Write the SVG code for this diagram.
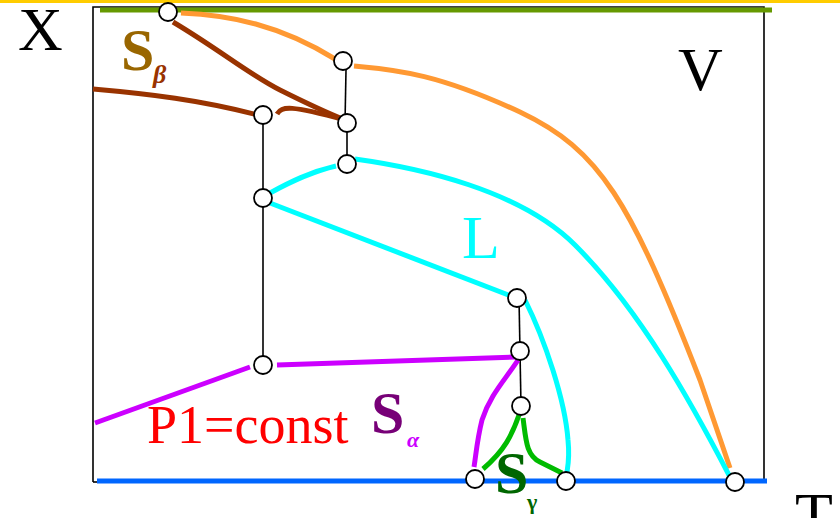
<svg xmlns="http://www.w3.org/2000/svg" width="840" height="518" viewBox="0 0 840 518">
<style>
.c{fill:none;stroke-width:5;stroke-linecap:butt}
.thin{fill:none;stroke:#000;stroke-width:1.6}
.n{fill:#fff;stroke:#000;stroke-width:1.8}
.serif{font-family:"Liberation Serif","Times New Roman",serif}
</style>
<rect width="840" height="518" fill="#fff"/>
<line x1="0" y1="1.5" x2="840" y2="1.5" stroke="#FFCC00" stroke-width="3"/>
<g id="frame"><polyline points="93,482 93,7 764,7 764,482" fill="none" stroke="#000" stroke-width="1.6"/><line x1="93" y1="482" x2="100" y2="482" stroke="#000" stroke-width="1.6"/></g>
<g id="connectors">
<line x1="100" y1="10" x2="772" y2="10" stroke="#669900" stroke-width="5"/>
<line x1="97" y1="481" x2="767" y2="481" stroke="#0066FF" stroke-width="5"/>
<line class="thin" x1="263" y1="115" x2="263" y2="365"/>
<line class="thin" x1="346" y1="70" x2="345" y2="123"/>
<line class="thin" x1="347" y1="123" x2="347" y2="164"/>
<line class="thin" x1="519" y1="298" x2="521" y2="406"/>
<path class="c" stroke="#FF9933" d="M181,13 C230,15 280,25 335,59"/>
<path class="c" stroke="#FF9933" d="M354,66 C400,70 440,75 520,112 C600,150 630,200 700,380 L730,468"/>
<path class="c" stroke="#993300" d="M173,22 C220,50 250,75 280,90 C300,100 320,110 345,120"/>
<path class="c" stroke="#993300" d="M93,89 C150,94 200,100 258,115"/>
<path class="c" stroke="#993300" d="M277,114 C282,106 290,105 345,120"/>
<path class="c" stroke="#00FFFF" d="M270,193 C290,182 310,172 336,166"/>
<path class="c" stroke="#00FFFF" d="M355,159 C420,168 520,190 575,245 C640,310 690,400 730,477"/>
<path class="c" stroke="#00FFFF" d="M270,203 L511,296"/>
<path class="c" stroke="#00FFFF" d="M525,300 C545,340 565,400 568,440 C570,460 567,470 567,472"/>
<path class="c" stroke="#CC00FF" d="M95,423 L250,367"/>
<path class="c" stroke="#CC00FF" d="M277,365 L516,357"/>
<path class="c" stroke="#CC00FF" d="M518,360 C505,380 490,395 482,420 C477,440 476,455 474,467"/>
<path class="c" stroke="#00BB00" d="M519,415 C512,435 505,450 483,469"/>
<path class="c" stroke="#00BB00" d="M523,418 C526,440 526,455 540,462 L562,473"/>
</g>
<g id="n1"><circle class="n" cx="168" cy="12" r="9"/></g>
<g id="n2"><circle class="n" cx="343" cy="61" r="9"/></g>
<g id="n3"><circle class="n" cx="263" cy="115" r="9"/></g>
<g id="n4"><circle class="n" cx="347" cy="123" r="9"/></g>
<g id="n5"><circle class="n" cx="347" cy="164" r="9"/></g>
<g id="n6"><circle class="n" cx="263" cy="198" r="9"/></g>
<g id="n7"><circle class="n" cx="517" cy="298" r="9"/></g>
<g id="n8"><circle class="n" cx="263" cy="365" r="9"/></g>
<g id="n9"><circle class="n" cx="520" cy="351" r="9"/></g>
<g id="n10"><circle class="n" cx="521" cy="406" r="9"/></g>
<g id="n11"><circle class="n" cx="475" cy="479" r="9"/></g>
<g id="n12"><circle class="n" cx="566" cy="481" r="9"/></g>
<g id="n13"><circle class="n" cx="735" cy="482" r="9"/></g>
<g id="labels" class="serif">
<text x="18" y="50" font-size="62" fill="#000">X</text>
<text x="678" y="90" font-size="62" fill="#000">V</text>
<text x="795" y="535" font-size="62" fill="#000">T</text>
<text x="462" y="258" font-size="62" fill="#00FFFF">L</text>
<text x="147" y="443" font-size="54" fill="#FF0000">P1=const</text>
<text x="121" y="70" font-size="60" font-weight="bold" fill="#996600">S</text>
<text x="153" y="83" font-size="26" font-weight="bold" font-style="italic" fill="#993300">β</text>
<text x="371" y="433" font-size="60" font-weight="bold" fill="#770077">S</text>
<text x="407" y="447" font-size="22" font-weight="bold" font-style="italic" fill="#CC00FF">α</text>
<text x="495" y="493" font-size="60" font-weight="bold" fill="#006600">S</text>
<text x="527" y="509" font-size="22" font-weight="bold" fill="#006600">γ</text>
</g>
</svg>
